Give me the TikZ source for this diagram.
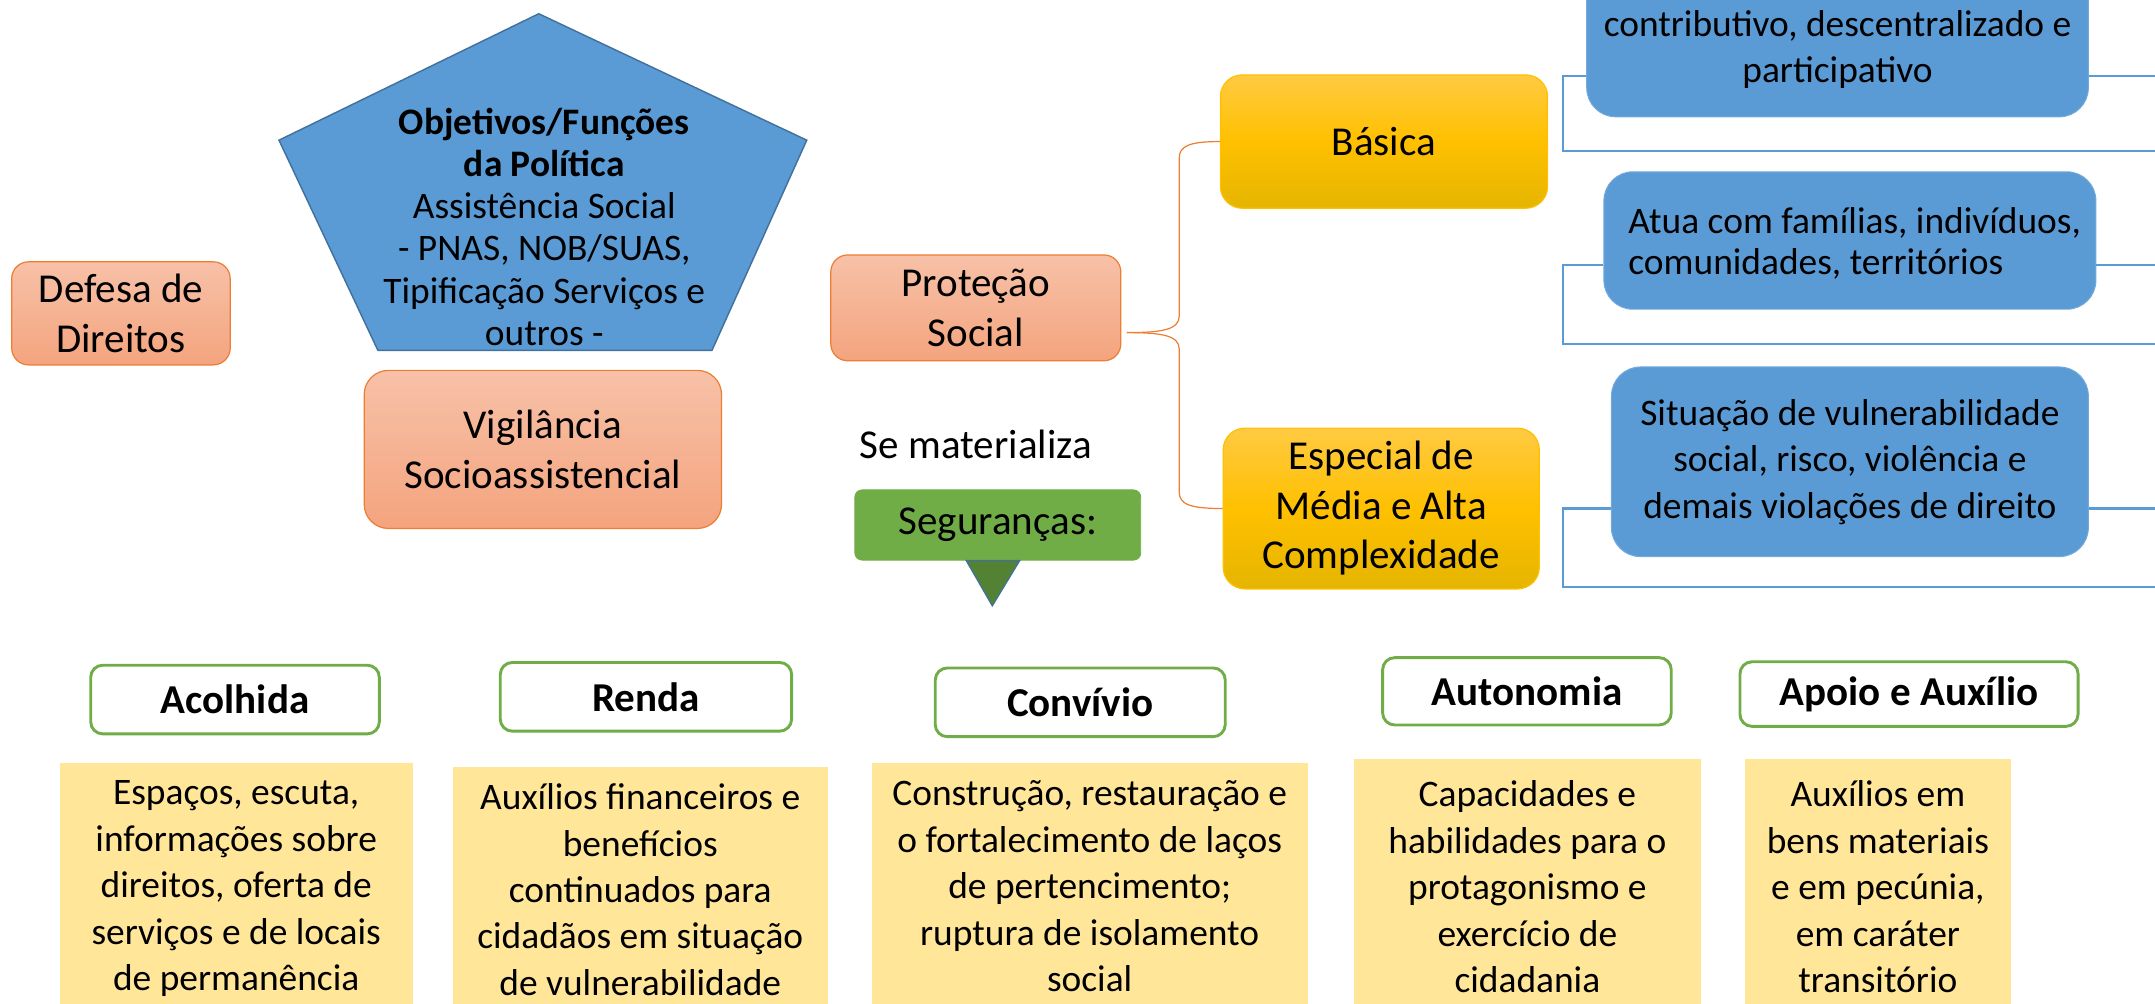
\documentclass[tikz,border=0pt]{standalone}
\usepackage{fontspec}
\setmainfont{Carlito}
\usetikzlibrary{positioning}
\definecolor{salmonTop}{HTML}{F7C1A8}
\definecolor{salmonBot}{HTML}{F4A47E}
\definecolor{orangeLine}{HTML}{ED7D31}
\definecolor{goldTop}{HTML}{FFCA42}
\definecolor{goldMid}{HTML}{FFC000}
\definecolor{goldBot}{HTML}{E5B500}
\definecolor{blueFill}{HTML}{5B9BD5}
\definecolor{blueLine}{HTML}{41719C}
\definecolor{greenFill}{HTML}{70AD47}
\definecolor{greenDark}{HTML}{548235}
\definecolor{yellowFill}{HTML}{FFE699}
\def\px{0.02cm}
\tikzset{
  bigtxt/.style={font=\fontsize{17}{20.5}\selectfont},
  bodytxt/.style={font=\fontsize{15.5}{19.2}\selectfont},
  salmonbox/.style={draw=orangeLine, line width=0.5pt, rounded corners=7pt,
    top color=salmonTop, bottom color=salmonBot, align=center, bigtxt},
  goldbox/.style={draw=goldMid, line width=0.5pt, rounded corners=9pt,
    top color=goldTop, bottom color=goldBot, middle color=goldMid, align=center, bigtxt},
  bluebox/.style={draw=blueFill!85!white, fill=blueFill, rounded corners=12pt, bodytxt},
  bline/.style={draw=blueFill, line width=0.9pt},
  brace/.style={draw=orangeLine, line width=0.5pt},
  headbox/.style={draw=greenFill, line width=1.2pt, fill=white, rounded corners=5pt,
    font=\fontsize{17}{20}\selectfont\bfseries},
  yellowbox/.style={fill=yellowFill, anchor=north west, minimum height=190*\px},
  yellowtxt/.style={bodytxt, align=center, anchor=north},
}
\begin{document}
\begin{tikzpicture}[x=0.02cm, y=-0.02cm]
  \useasboundingbox (0,0) rectangle (1568,730);
  \clip (0,0) rectangle (1568,730);

  % left part
  \node[salmonbox, minimum width=159*\px, minimum height=75*\px] (defesa) at (88,228) {Defesa de\\Direitos};

  \coordinate (P1) at (392,10);
  \coordinate (P2) at (203,102);
  \coordinate (P3) at (587,102);
  \coordinate (P4) at (275,255);
  \coordinate (P5) at (518,255);
  \draw[blueLine, fill=blueFill, line width=0.6pt] (P1) -- (P2) -- (P4) -- (P5) -- (P3) -- cycle;
  \node[align=center, font=\fontsize{15.5}{17.5}\selectfont] (objetivos) at (396,165)
    {\textbf{Objetivos/Funções}\\\textbf{da Política}\\Assistência Social\\- PNAS, NOB/SUAS,\\Tipificação Serviços e\\outros -};

  \node[salmonbox, rounded corners=10pt, minimum width=260*\px, minimum height=115*\px] (vigil) at (395,327) {Vigilância\\Socioassistencial};
  \node[salmonbox, minimum width=211*\px, minimum height=77*\px] (prot) at (710,224) {Proteção\\Social};

  \node[bigtxt] (mater) at (710,323) {Se materializa};
  \node[draw=greenFill, fill=greenFill, rounded corners=3pt, minimum width=208*\px, minimum height=51*\px, bigtxt] (seg) at (726,382) {Seguranças:};
  \draw[blueLine, fill=greenDark, line width=0.5pt] ([xshift=-23*\px]seg.south) -- ([xshift=16*\px]seg.south)
    -- ([xshift=-4*\px, yshift=-33*\px]seg.south) -- cycle;

  % protecao social
  \node[goldbox, minimum width=238*\px, minimum height=97*\px] (basica) at (1007,103) {Básica};
  \node[goldbox, minimum width=230*\px, minimum height=117*\px] (especial) at (1005,370) {Especial de\\Média e Alta\\Complexidade};

  \coordinate (brtip) at (820,242);
  \draw[brace] (brtip) .. controls (845,242) and (858,240) .. (858,230) -- (858,115)
    .. controls (858,106) and (866,103) .. (basica.west);
  \draw[brace] (brtip) .. controls (845,242) and (858,244) .. (858,254) -- (858,358)
    .. controls (858,367) and (866,370) .. (especial.west);

  % right boxes
  \node[bluebox, minimum width=365*\px, minimum height=160*\px] (rede) at (1337,5) {};
  \node[bodytxt, align=center] (redetxt) at (1337,36) {contributivo, descentralizado e\\participativo};
  \node[bluebox, minimum width=358*\px, minimum height=100*\px] (atua) at (1346,175) {};
  \node[font=\fontsize{15.5}{17}\selectfont, align=left, anchor=west] (atuatxt) at ([xshift=12*\px, yshift=-2*\px]atua.west)
    {Atua com famílias, indivíduos,\\comunidades, territórios};
  \node[bluebox, minimum width=347*\px, minimum height=138*\px, align=center] (situacao) at (1346,336)
    {Situação de vulnerabilidade\\social, risco, violência e\\demais violações de direito};

  \coordinate (redeA) at (1137,55);
  \coordinate (atuaA) at (1137,193);
  \coordinate (situA) at (1137,370);
  \draw[bline] (rede.west |- redeA) -- (redeA) -- (1137,110) -- (1575,110);
  \draw[bline] (rede.east |- redeA) -- (1575,55);
  \draw[bline] (atua.west |- atuaA) -- (atuaA) -- (1137,250) -- (1575,250);
  \draw[bline] (atua.east |- atuaA) -- (1575,193);
  \draw[bline] (situacao.west |- situA) -- (situA) -- (1137,427) -- (1575,427);
  \draw[bline] (situacao.east |- situA) -- (1575,370);

  % segurancas
  \node[headbox, minimum width=210*\px, minimum height=50*\px] (acolhida) at (171,509) {Acolhida};
  \node[headbox, minimum width=212*\px, minimum height=50*\px] (renda) at (470,507) {Renda};
  \node[headbox, minimum width=211*\px, minimum height=50*\px] (convivio) at (786,511) {Convívio};
  \node[headbox, minimum width=210*\px, minimum height=49*\px] (autonomia) at (1111,503) {Autonomia};
  \node[headbox, minimum width=246*\px, minimum height=47*\px] (apoio) at (1389,505) {Apoio e Auxílio};

  \node[yellowbox, minimum width=257*\px] (acolhidaBox) at (43,555) {};
  \node[yellowbox, minimum width=273*\px] (rendaBox) at (329,558) {};
  \node[yellowbox, minimum width=317*\px] (convivioBox) at (634,555) {};
  \node[yellowbox, minimum width=252*\px] (autonomiaBox) at (985,552) {};
  \node[yellowbox, minimum width=194*\px] (apoioBox) at (1269,552) {};

  \node[yellowtxt] (acolhidaTxt) at ([yshift=-7*\px]acolhidaBox.north)
    {Espaços, escuta,\\informações sobre\\direitos, oferta de\\serviços e de locais\\de permanência};
  \node[yellowtxt] (rendaTxt) at ([yshift=-6*\px]rendaBox.north)
    {Auxílios financeiros e\\benefícios\\continuados para\\cidadãos em situação\\de vulnerabilidade};
  \node[yellowtxt] (convivioTxt) at ([yshift=-7*\px]convivioBox.north)
    {Construção, restauração e\\o fortalecimento de laços\\de pertencimento;\\ruptura de isolamento\\social};
  \node[yellowtxt] (autonomiaTxt) at ([yshift=-10*\px]autonomiaBox.north)
    {Capacidades e\\habilidades para o\\protagonismo e\\exercício de\\cidadania};
  \node[yellowtxt] (apoioTxt) at ([yshift=-10*\px]apoioBox.north)
    {Auxílios em\\bens materiais\\e em pecúnia,\\em caráter\\transitório};
\end{tikzpicture}
\end{document}
